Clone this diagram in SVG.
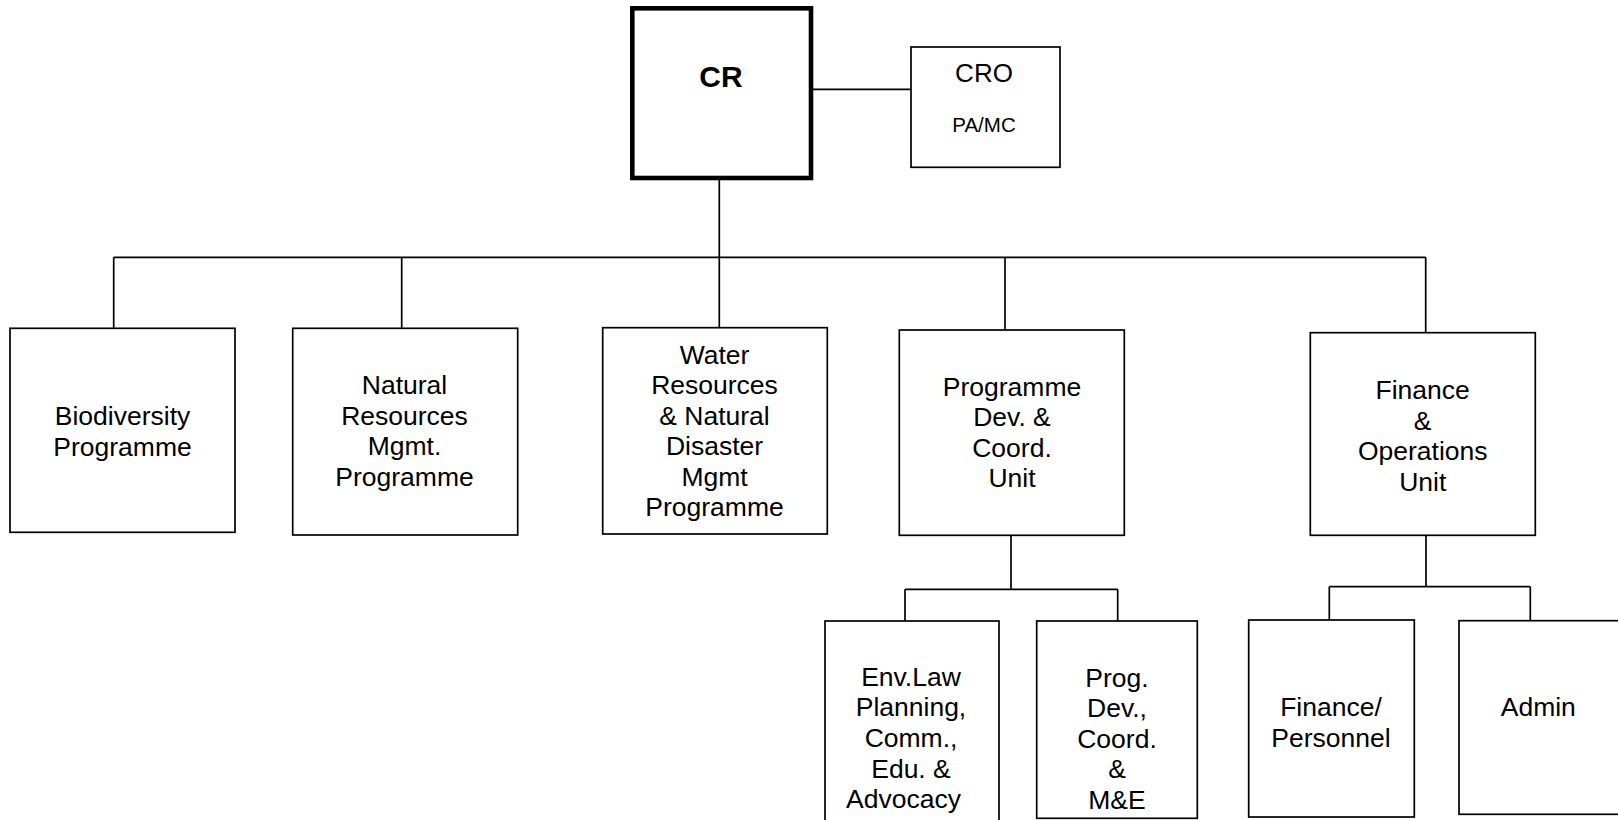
<svg xmlns="http://www.w3.org/2000/svg" width="1618" height="820" viewBox="0 0 1618 820">
<style>
.box{fill:#fff;stroke:#000;stroke-width:1.7}
.main{fill:#fff;stroke:#000;stroke-width:4.6}
.lbl{font-family:"Liberation Sans",Arial,sans-serif;font-size:26.5px;fill:#000;text-anchor:middle}
.big{font-family:"Liberation Sans",Arial,sans-serif;font-size:30px;font-weight:bold;fill:#000;text-anchor:middle}
.sm{font-family:"Liberation Sans",Arial,sans-serif;font-size:20.5px;fill:#000;text-anchor:middle}
.conn{fill:none;stroke:#000;stroke-width:1.7}
</style>
<rect width="1618" height="820" fill="#fff"/>
<g id="connectors">
<path class="conn" d="M813,89.3 H911"/>
<path class="conn" d="M719.3,180 V327.7"/>
<path class="conn" d="M113.7,257.3 H1425.7"/>
<path class="conn" d="M113.7,257.3 V328.3"/>
<path class="conn" d="M401.7,257.3 V328.3"/>
<path class="conn" d="M1005,257.3 V330"/>
<path class="conn" d="M1425.7,257.3 V332.7"/>
<path class="conn" d="M1011,535.3 V589.3"/>
<path class="conn" d="M905,589.3 H1117.7"/>
<path class="conn" d="M905,589.3 V621"/>
<path class="conn" d="M1117.7,589.3 V621"/>
<path class="conn" d="M1426,535.3 V586.7"/>
<path class="conn" d="M1329.3,586.7 H1530.3"/>
<path class="conn" d="M1329.3,586.7 V620"/>
<path class="conn" d="M1530.3,586.7 V620.7"/>
</g>
<g id="cr">
<rect class="main" x="632.3" y="8.3" width="178.7" height="169.7"/>
<text class="big" x="721" y="87.3">CR</text>
</g>
<g id="cro">
<rect class="box" x="911" y="47" width="149" height="120.3"/>
<text class="lbl" x="984" y="81.7" style="font-size:26px">CRO</text>
<text class="sm" x="984" y="131.7">PA/MC</text>
</g>
<g id="biodiversity">
<rect class="box" x="10" y="328.3" width="225" height="204"/>
<text class="lbl" x="122.5" y="425.3">Biodiversity</text>
<text class="lbl" x="122.5" y="455.5">Programme</text>
</g>
<g id="nrm">
<rect class="box" x="292.7" y="328.3" width="225" height="206.7"/>
<text class="lbl" x="404.5" y="394">Natural</text>
<text class="lbl" x="404.5" y="424.5">Resources</text>
<text class="lbl" x="404.5" y="455">Mgmt.</text>
<text class="lbl" x="404.5" y="485.5">Programme</text>
</g>
<g id="water">
<rect class="box" x="602.7" y="327.7" width="224.6" height="206.3"/>
<text class="lbl" x="714.5" y="363.5">Water</text>
<text class="lbl" x="714.5" y="394">Resources</text>
<text class="lbl" x="714.5" y="424.5">&amp; Natural</text>
<text class="lbl" x="714.5" y="455">Disaster</text>
<text class="lbl" x="714.5" y="485.5">Mgmt</text>
<text class="lbl" x="714.5" y="516">Programme</text>
</g>
<g id="progdev">
<rect class="box" x="899.3" y="330" width="225" height="205.3"/>
<text class="lbl" x="1012" y="395.7">Programme</text>
<text class="lbl" x="1012" y="426.2">Dev. &amp;</text>
<text class="lbl" x="1012" y="456.7">Coord.</text>
<text class="lbl" x="1012" y="487.2">Unit</text>
</g>
<g id="finops">
<rect class="box" x="1310.3" y="332.7" width="225" height="202.6"/>
<text class="lbl" x="1422.7" y="399">Finance</text>
<text class="lbl" x="1422.7" y="429.5">&amp;</text>
<text class="lbl" x="1422.7" y="460">Operations</text>
<text class="lbl" x="1422.7" y="490.5">Unit</text>
</g>
<g id="envlaw">
<rect class="box" x="825" y="621" width="174" height="210"/>
<text class="lbl" x="911" y="685.7">Env.Law</text>
<text class="lbl" x="911" y="716.3">Planning,</text>
<text class="lbl" x="911" y="747">Comm.,</text>
<text class="lbl" x="911" y="777.6">Edu. &amp;</text>
<text class="lbl" x="903.5" y="808.2">Advocacy</text>
</g>
<g id="progcoord">
<rect class="box" x="1036.7" y="621" width="160.6" height="197.3"/>
<text class="lbl" x="1117" y="686.5">Prog.</text>
<text class="lbl" x="1117" y="717">Dev.,</text>
<text class="lbl" x="1117" y="747.5">Coord.</text>
<text class="lbl" x="1117" y="778">&amp;</text>
<text class="lbl" x="1117" y="808.5">M&amp;E</text>
</g>
<g id="finpers">
<rect class="box" x="1248.7" y="620" width="165.6" height="197"/>
<text class="lbl" x="1331" y="715.7">Finance/</text>
<text class="lbl" x="1331" y="746.7">Personnel</text>
</g>
<g id="admin">
<rect class="box" x="1459" y="620.7" width="165" height="193.6"/>
<text class="lbl" x="1538.3" y="716">Admin</text>
</g>
</svg>
